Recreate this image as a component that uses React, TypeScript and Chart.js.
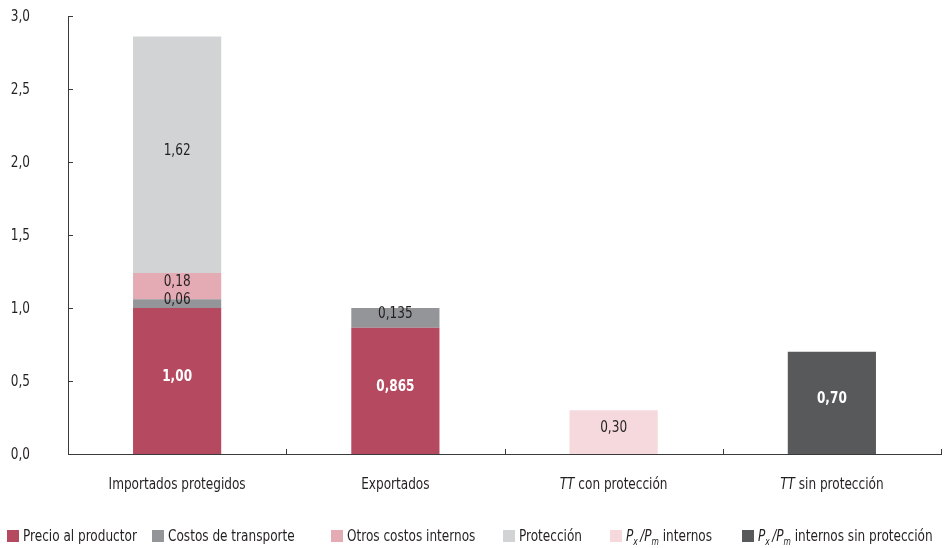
import { useEffect, useRef } from 'react';
import { Chart, registerables } from 'chart.js';

Chart.register(...registerables);

const FONT = '"Liberation Sans Narrow", "DejaVu Sans Condensed", "Arial Narrow", sans-serif';
const TEXT = '#231f20';
const SX = 0.84;
const FS = 16;

const categories = ['Importados protegidos', 'Exportados', 'TT con protección', 'TT sin protección'];
const seriesNames = [
  'Precio al productor',
  'Costos de transporte',
  'Otros costos internos',
  'Protección',
  'Px/Pm internos',
  'Px/Pm internos sin protección',
];
const precioProductor = [1.0, 0.865, null, null];
const costosTransporte = [0.06, 0.135, null, null];
const otrosCostos = [0.18, null, null, null];
const proteccion = [1.62, null, null, null];
const pxpmInternos = [null, null, 0.3, null];
const pxpmSinProteccion = [null, null, null, 0.7];
const seriesColors = ['#b5495f', '#939598', '#e5abb4', '#d1d3d4', '#f5d9dd', '#58595b'];
const whiteLabelSeries = [0, 5];
const yTicks = [0, 0.5, 1, 1.5, 2, 2.5, 3];
const legendX = [7, 152, 331, 503, 610, 742];

function fmt(v: number): string {
  let s = v.toFixed(3);
  if (s.endsWith('0')) s = s.slice(0, -1);
  return s.replace('.', ',');
}

function text(ctx: CanvasRenderingContext2D, t: string, x: number, y: number) {
  ctx.save();
  ctx.translate(x, y);
  ctx.scale(SX, 1);
  ctx.fillText(t, 0, 0);
  ctx.restore();
}

type Part = { t: string; it?: boolean; sub?: boolean; bold?: boolean };

function drawParts(ctx: CanvasRenderingContext2D, parts: Part[], x: number, y: number, size: number, align: 'left' | 'center' | 'right') {
  const fontFor = (p: Part) =>
    `${p.it ? 'italic ' : ''}${p.bold ? 'bold ' : ''}${p.sub ? Math.round(size * 0.6) : size}px ${FONT}`;
  let total = 0;
  const widths = parts.map((p) => {
    ctx.font = fontFor(p);
    const w = ctx.measureText(p.t).width * SX;
    total += w;
    return w;
  });
  let cx = align === 'center' ? x - total / 2 : align === 'right' ? x - total : x;
  ctx.textAlign = 'left';
  ctx.textBaseline = 'middle';
  parts.forEach((p, i) => {
    ctx.font = fontFor(p);
    text(ctx, p.t, cx, p.sub ? y + size * 0.35 : y);
    cx += widths[i];
  });
}

function legendParts(name: string): Part[] {
  if (name.startsWith('Px/Pm')) {
    return [
      { t: 'P', it: true },
      { t: 'x ', it: true, sub: true },
      { t: '/', it: true },
      { t: 'P', it: true },
      { t: 'm', it: true, sub: true },
      { t: name.slice(5) },
    ];
  }
  return [{ t: name }];
}

function categoryParts(name: string): Part[] {
  if (name.startsWith('TT ')) {
    return [{ t: 'TT', it: true }, { t: name.slice(2) }];
  }
  return [{ t: name }];
}

const overlayPlugin = {
  id: 'overlay',
  afterDraw(chart: any) {
    const ctx: CanvasRenderingContext2D = chart.ctx;
    const xs = chart.scales.x;
    const ys = chart.scales.y;
    const area = chart.chartArea;
    ctx.save();
    ctx.strokeStyle = '#3a3a3a';
    ctx.lineWidth = 1;
    ctx.fillStyle = TEXT;
    // y ticks and labels
    yTicks.forEach((v) => {
      const py = Math.round(ys.getPixelForValue(v)) + 0.5;
      ctx.beginPath();
      ctx.moveTo(area.left, py);
      ctx.lineTo(area.left + 5, py);
      ctx.stroke();
      ctx.fillStyle = TEXT;
      drawParts(ctx, [{ t: v.toFixed(1).replace('.', ',') }], 30, py, FS, 'right');
    });
    // x ticks (between categories)
    const n = categories.length;
    for (let i = 0; i < n; i++) {
      const bx = i < n - 1 ? (xs.getPixelForValue(i) + xs.getPixelForValue(i + 1)) / 2 : area.right;
      const px = Math.round(bx) + 0.5;
      ctx.beginPath();
      ctx.moveTo(px, area.bottom);
      ctx.lineTo(px, area.bottom - 5);
      ctx.stroke();
    }
    // x labels
    ctx.fillStyle = TEXT;
    categories.forEach((c, i) => {
      drawParts(ctx, categoryParts(c), xs.getPixelForValue(i), area.bottom + 31, FS, 'center');
    });
    // data labels
    chart.data.datasets.forEach((ds: any, di: number) => {
      const meta = chart.getDatasetMeta(di);
      meta.data.forEach((el: any, i: number) => {
        const v = ds.data[i];
        if (v === null || v === undefined) return;
        const white = whiteLabelSeries.includes(di);
        ctx.fillStyle = white ? '#ffffff' : TEXT;
        const cy = (el.y + el.base) / 2 - 4;
        drawParts(ctx, [{ t: fmt(v), bold: white }], el.x, cy, FS, 'center');
      });
    });
    // legend
    seriesNames.forEach((name, i) => {
      const lx = legendX[i];
      ctx.fillStyle = seriesColors[i];
      ctx.fillRect(lx, 530, 12, 12);
      ctx.fillStyle = TEXT;
      drawParts(ctx, legendParts(name), lx + 16, 537, FS, 'left');
    });
    ctx.restore();
  },
};

export default function App() {
  const ref = useRef<HTMLCanvasElement | null>(null);
  useEffect(() => {
    document.body.style.margin = '0';
    const canvas = ref.current;
    if (!canvas) return;
    const series = [precioProductor, costosTransporte, otrosCostos, proteccion, pxpmInternos, pxpmSinProteccion];
    const chart = new Chart(canvas, {
      type: 'bar',
      data: {
        labels: categories,
        datasets: series.map((d, i) => ({
          label: seriesNames[i],
          data: d,
          backgroundColor: seriesColors[i],
          borderWidth: 0,
          barPercentage: 0.404,
          categoryPercentage: 1,
          stack: 's',
        })),
      },
      options: {
        responsive: false,
        animation: false,
        layout: { padding: { left: 68, right: 4, top: 16, bottom: 94 } },
        plugins: { legend: { display: false }, tooltip: { enabled: false } },
        scales: {
          x: {
            stacked: true,
            offset: true,
            grid: { display: false, drawTicks: false },
            ticks: { display: false },
            border: { display: true, color: '#3a3a3a', width: 1 },
          },
          y: {
            stacked: true,
            min: 0,
            max: 3,
            grid: { display: false, drawTicks: false },
            ticks: { display: false, stepSize: 0.5 },
            border: { display: true, color: '#3a3a3a', width: 1 },
          },
        },
      },
      plugins: [overlayPlugin],
    } as any);
    return () => chart.destroy();
  }, []);
  return (
    <div style={{ position: 'fixed', left: 0, top: 0, width: 945, height: 548, background: '#fff' }}>
      <canvas ref={ref} width={945} height={548} style={{ display: 'block' }} />
    </div>
  );
}
